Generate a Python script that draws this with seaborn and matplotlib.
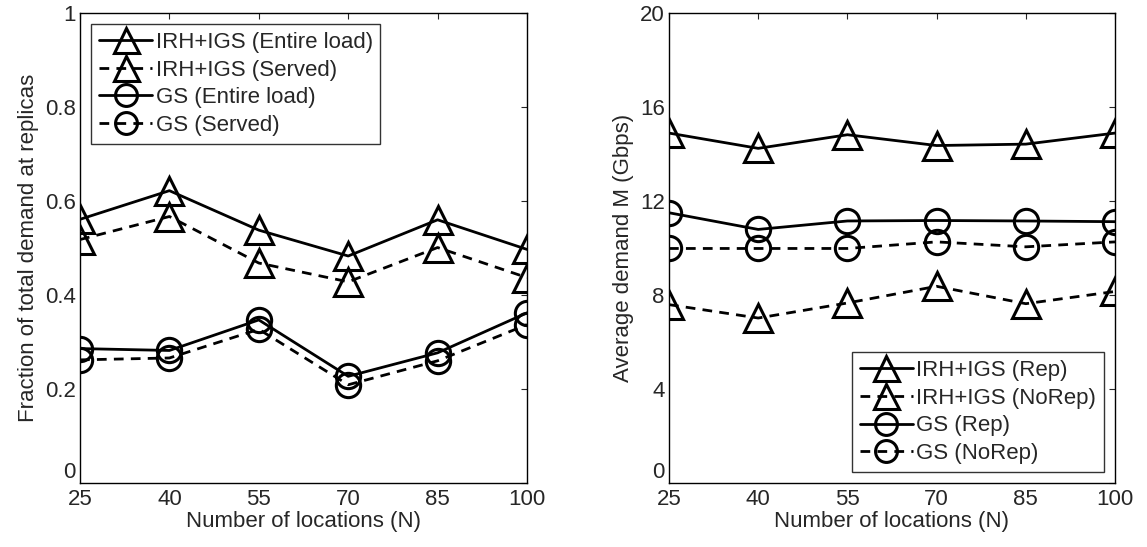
import matplotlib
matplotlib.use("Agg")
import matplotlib.pyplot as plt
import seaborn as sns
import pandas as pd

# Number of locations
N = [25, 40, 55, 70, 85, 100]

# Left panel: fraction of total demand served at replicas
irh_entire = [0.561, 0.622, 0.538, 0.483, 0.560, 0.497]
irh_served = [0.518, 0.567, 0.468, 0.428, 0.501, 0.437]
gs_entire = [0.286, 0.282, 0.347, 0.227, 0.277, 0.362]
gs_served = [0.262, 0.266, 0.327, 0.209, 0.260, 0.337]

# Right panel: average demand M (Gbps)
irh_rep = [14.89, 14.24, 14.82, 14.36, 14.42, 14.89]
irh_norep = [7.59, 7.02, 7.66, 8.37, 7.63, 8.15]
gs_rep = [11.50, 10.79, 11.15, 11.17, 11.15, 11.12]
gs_norep = [9.98, 9.98, 9.98, 10.26, 10.05, 10.26]

left_labels = ["IRH+IGS (Entire load)", "IRH+IGS (Served)", "GS (Entire load)", "GS (Served)"]
right_labels = ["IRH+IGS (Rep)", "IRH+IGS (NoRep)", "GS (Rep)", "GS (NoRep)"]
left_ticks = [0, 0.2, 0.4, 0.6, 0.8, 1]
left_ticklabels = ["0", "0.2", "0.4", "0.6", "0.8", "1"]
right_ticks = [0, 4, 8, 12, 16, 20]
right_ticklabels = ["0", "4", "8", "12", "16", "20"]

sns.set_style("white")
plt.rcParams["font.family"] = ["Liberation Sans", "DejaVu Sans"]

fig = plt.figure(figsize=(11.47, 5.47), dpi=100)
W, H = 1147, 547
ax1 = fig.add_axes([80 / W, (H - 483) / H, 447 / W, 470 / H])
ax2 = fig.add_axes([669 / W, (H - 483) / H, 446 / W, 470 / H])

DASH = (0, (3.5, 2.6))
styles = [("^", "-"), ("^", DASH), ("o", "-"), ("o", DASH)]


def draw(ax, series, labels, yticks, yticklabels, ylim):
    for vals, lab, (mk, ls) in zip(series, labels, styles):
        df = pd.DataFrame({"N": N, "v": vals})
        ms = 20 if mk == "^" else 17.5
        sns.lineplot(data=df, x="N", y="v", ax=ax, color="black", lw=2.0,
                     linestyle=ls, marker=mk, markersize=ms,
                     markerfacecolor="none", markeredgecolor="black",
                     markeredgewidth=2.2, label=lab, legend=False)
    ax.set_xlim(25, 100)
    ax.set_xticks(N)
    ax.set_ylim(*ylim)
    ax.set_yticks(yticks)
    ax.set_yticklabels(yticklabels)
    ax.set_xlabel("Number of locations (N)", fontsize=16, labelpad=1)
    ax.tick_params(direction="in", top=True, right=True, length=4,
                   width=0.8, labelsize=16)
    ax.tick_params(axis="x", pad=4)
    ax.tick_params(axis="y", pad=3)
    # lift the zero label so it sits above the x tick labels
    ax.get_yticklabels()[0].set_verticalalignment("bottom")
    for sp in ax.spines.values():
        sp.set_linewidth(1.0)
        sp.set_color("black")


def add_legend(ax, loc):
    leg = ax.legend(loc=loc, fontsize=16, frameon=True, fancybox=False,
                    edgecolor="black", handlelength=2.4, handletextpad=0.15,
                    labelspacing=0.3, borderpad=0.35, borderaxespad=0.5,
                    markerscale=0.9)
    leg.get_frame().set_linewidth(1.0)
    return leg


draw(ax1, [irh_entire, irh_served, gs_entire, gs_served], left_labels,
     left_ticks, left_ticklabels, (0, 1))
ax1.set_ylabel("Fraction of total demand at replicas", fontsize=16, labelpad=4)
add_legend(ax1, "upper left")

draw(ax2, [irh_rep, irh_norep, gs_rep, gs_norep], right_labels,
     right_ticks, right_ticklabels, (0, 20))
ax2.set_ylabel("Average demand M (Gbps)", fontsize=16, labelpad=4)
add_legend(ax2, "lower right")

fig.savefig("out.png", dpi=100)
